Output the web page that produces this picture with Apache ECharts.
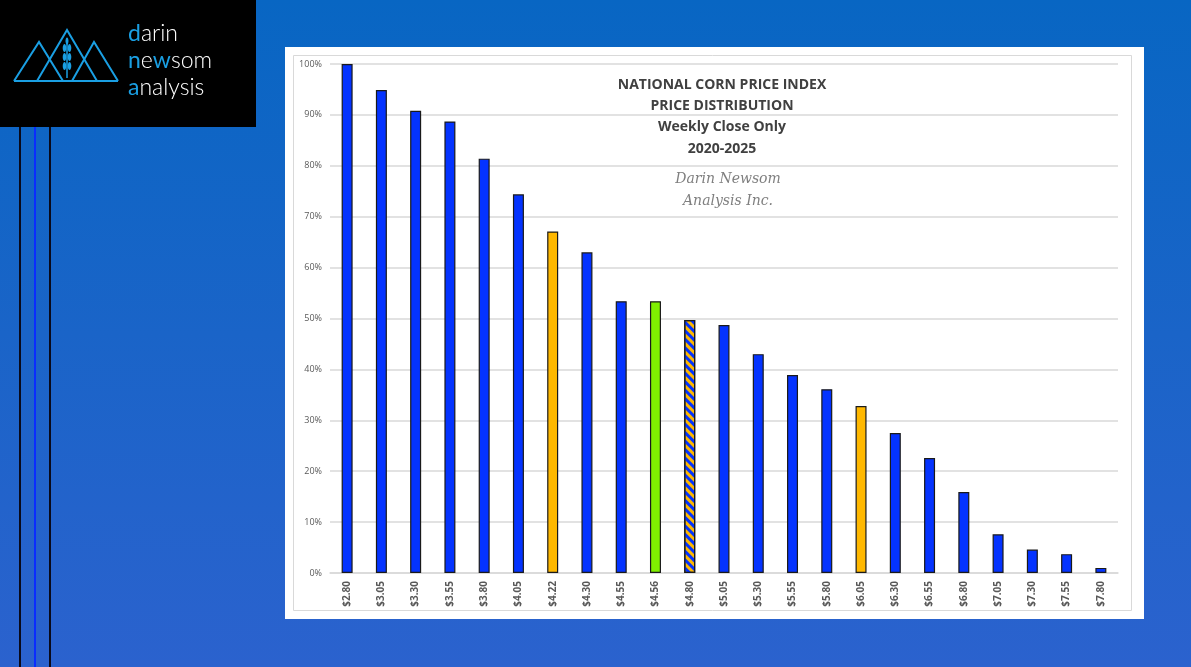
<!DOCTYPE html>
<html>
<head>
<meta charset="utf-8">
<script src="https://cdn.jsdelivr.net/npm/echarts@6/dist/echarts.min.js"></script>
<style>
html,body{margin:0;padding:0;width:1191px;height:667px;overflow:hidden;
background:linear-gradient(180deg,#0866c3 0%,#1a64c8 50%,#2b62ce 100%);}
#chart{width:1191px;height:667px;}
</style>
</head>
<body>
<div id="chart"></div>
<script>
const categories = ['$2.80','$3.05','$3.30','$3.55','$3.80','$4.05','$4.22','$4.30','$4.55','$4.56','$4.80','$5.05','$5.30','$5.55','$5.80','$6.05','$6.30','$6.55','$6.80','$7.05','$7.30','$7.55','$7.80'];
const values = [100,94.9,90.8,88.7,81.4,74.4,67.1,63.0,53.4,53.4,49.7,48.7,43.0,38.9,36.1,32.8,27.5,22.6,15.9,7.6,4.6,3.7,1.0];
const barKinds = ['blue','blue','blue','blue','blue','blue','orange','blue','blue','green','hatched','blue','blue','blue','blue','orange','blue','blue','blue','blue','blue','blue','blue'];
const titleLines = ['NATIONAL CORN PRICE INDEX','PRICE DISTRIBUTION','Weekly Close Only','2020-2025'];
const signatureLines = ['Darin Newsom','Analysis Inc.'];

const BLUE = '#0433ff', ORANGE = '#ffb800', GREEN = '#80f000', LOGO = '#1a9fe3';

const chart = echarts.init(document.getElementById('chart'), null, {renderer:'canvas'});

const barData = values.map((v, i) => {
  const k = barKinds[i];
  const style = {borderColor:'#1a1a1a', borderWidth:1.2};
  if (k === 'blue') style.color = BLUE;
  else if (k === 'orange') style.color = ORANGE;
  else if (k === 'green') style.color = GREEN;
  else {
    style.color = ORANGE;
    style.decal = {symbol:'rect', symbolSize:1, color:BLUE, dashArrayX:[1,0], dashArrayY:[2.2,2.2], rotation:Math.PI/4};
  }
  return {value:v, itemStyle:style};
});

const graphics = [
  {type:'rect', shape:{x:0,y:0,width:256,height:127}, style:{fill:'#000'}, z:1},
  {type:'rect', shape:{x:19,y:127,width:2,height:540}, style:{fill:'#0a0a1a'}, z:1},
  {type:'rect', shape:{x:34,y:127,width:2,height:540}, style:{fill:'#0a2cff'}, z:1},
  {type:'rect', shape:{x:49,y:127,width:2,height:540}, style:{fill:'#0a0a1a'}, z:1},
  {type:'polyline', shape:{points:[[14,81],[118,81]]}, style:{stroke:LOGO,lineWidth:2,fill:null}, z:2},
  {type:'polyline', shape:{points:[[14,81],[39,42],[63,81]]}, style:{stroke:LOGO,lineWidth:2,fill:null}, z:2},
  {type:'polyline', shape:{points:[[37,81],[67,30],[97,81]]}, style:{stroke:LOGO,lineWidth:2,fill:null}, z:2},
  {type:'polyline', shape:{points:[[72,81],[94,42],[118,81]]}, style:{stroke:LOGO,lineWidth:2,fill:null}, z:2},
  {type:'line', shape:{x1:67,y1:40,x2:67,y2:78}, style:{stroke:LOGO,lineWidth:1.5}, z:2},
  {type:'ellipse', shape:{cx:64.5,cy:48,rx:1.8,ry:4}, style:{fill:LOGO}, z:2},
  {type:'ellipse', shape:{cx:69.5,cy:48,rx:1.8,ry:4}, style:{fill:LOGO}, z:2},
  {type:'ellipse', shape:{cx:64.5,cy:57,rx:1.8,ry:4}, style:{fill:LOGO}, z:2},
  {type:'ellipse', shape:{cx:69.5,cy:57,rx:1.8,ry:4}, style:{fill:LOGO}, z:2},
  {type:'ellipse', shape:{cx:64.5,cy:66,rx:1.8,ry:4}, style:{fill:LOGO}, z:2},
  {type:'ellipse', shape:{cx:69.5,cy:66,rx:1.8,ry:4}, style:{fill:LOGO}, z:2},
  {type:'ellipse', shape:{cx:67,cy:41,rx:1.5,ry:3.5}, style:{fill:LOGO}, z:2},
  {type:'text', left:128, top:22, z:2, style:{
    text:'{b|d}{w|arin}\n{b|n}{w|e}{b|w}{w|som}\n{b|a}{w|nalysis}',
    rich:{
      b:{fill:LOGO, fontSize:23, fontFamily:'Lato', fontWeight:400, lineHeight:27},
      w:{fill:'#ffffff', fontSize:23, fontFamily:'Lato', fontWeight:300, lineHeight:27}
    }}},
  {type:'rect', shape:{x:285,y:47,width:859,height:572}, style:{fill:'#ffffff'}, z:0},
  {type:'rect', shape:{x:293.5,y:55.5,width:838,height:555}, style:{fill:null, stroke:'#d9d9d9', lineWidth:1}, z:0},
];

titleLines.forEach((t, i) => {
  graphics.push({type:'text', x:722, y:[85,106,127,149][i], z:5,
    style:{text:t, fill:'#404040', font:'bold 14px "Open Sans"', align:'center', verticalAlign:'middle',
      backgroundColor:'#ffffff', padding:[1,4]}});
});
signatureLines.forEach((t, i) => {
  graphics.push({type:'text', x:728, y:[179,201][i], z:5,
    style:{text:t, fill:'#7f7f7f', font:'italic 14px "DejaVu Serif"', align:'center', verticalAlign:'middle',
      backgroundColor:'#ffffff', padding:[1,4]}});
});

chart.setOption({
  backgroundColor:'transparent',
  animation:false,
  graphic:graphics,
  grid:{left:330, right:73, top:64, bottom:94, containLabel:false},
  xAxis:{
    type:'category', data:categories,
    axisLine:{show:true, lineStyle:{color:'#d9d9d9', width:1.5}},
    axisTick:{show:false},
    axisLabel:{rotate:90, color:'#595959', fontSize:10, fontWeight:'bold', fontFamily:'Open Sans', margin:8, interval:0}
  },
  yAxis:{
    type:'value', min:0, max:100, interval:10,
    axisLine:{show:false}, axisTick:{show:false},
    splitLine:{lineStyle:{color:'#d9d9d9', width:1.5}},
    axisLabel:{formatter:'{value}%', color:'#595959', fontSize:9, fontFamily:'Open Sans', margin:8}
  },
  series:[{
    type:'bar', data:barData, barWidth:11, z:3
  }]
});
</script>
</body>
</html>
